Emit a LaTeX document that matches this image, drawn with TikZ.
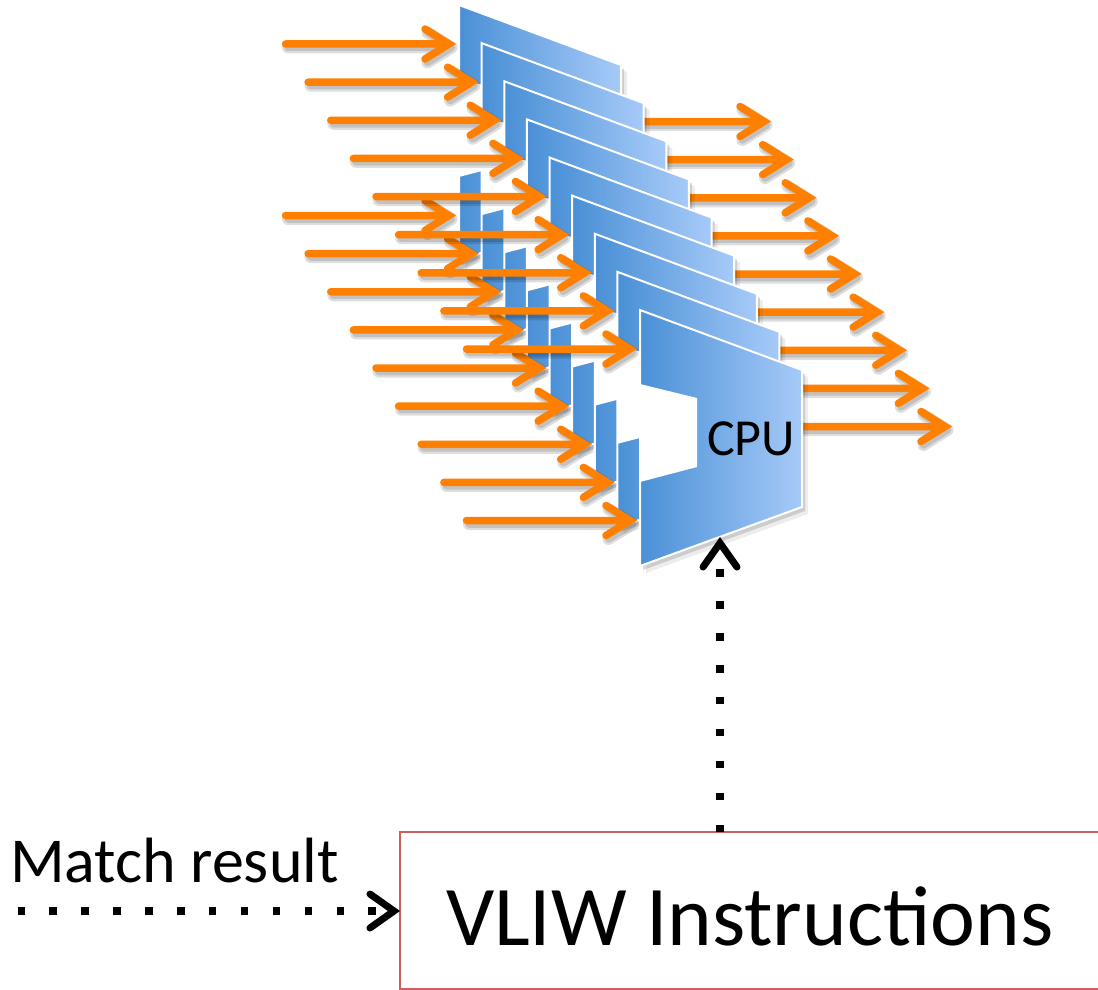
\documentclass[tikz,border=0pt]{standalone}
\usepackage{fontspec}
\setmainfont{Carlito}
\usetikzlibrary{arrows.meta}

\definecolor{cpuleft}{RGB}{74,144,214}
\definecolor{cpuright}{RGB}{166,202,248}
\definecolor{busorange}{RGB}{255,128,0}
\definecolor{boxred}{RGB}{204,96,92}

\tikzset{
  bus/.style={draw=busorange, line width=7.5pt, line cap=round, line join=miter},
  busshade/.style={draw=black, line width=#1, line cap=round, line join=round, draw opacity=0.13},
  cpubody/.style={left color=cpuleft, right color=cpuright},
  cpurim/.style={draw=white, line width=2pt, line join=miter},
  cpushade/.style={fill=black, fill opacity=#1},
  dotline/.style={draw=black, line width=7.5pt, dash pattern=on 7.5pt off 24.4pt, line cap=butt,
    -{Straight Barb[length=24pt, width=34pt, line width=7pt, line cap=round, line join=miter]}},
  textlabel/.style={inner sep=0pt, outer sep=0pt, text=black},
  vliwbox/.style={draw=boxred, line width=1.8pt, fill=white, minimum width=720pt, minimum height=157pt,
    inner sep=0pt, outer sep=0pt},
}

% one orange bus arrow: shaft start x, y, tip vertex x (local coordinates)
\newcommand\busarrow[3]{%
  \draw[busshade=12pt] (#1+2.5,#2+3.5) -- (#3+2.5,#2+3.5) ++(-24,-15) -- (#3+2.5,#2+3.5) -- ++(-24,15);
  \draw[busshade=7.5pt] (#1+2.5,#2+3.5) -- (#3+2.5,#2+3.5) ++(-24,-15) -- (#3+2.5,#2+3.5) -- ++(-24,15);
  \draw[bus] (#1,#2) -- (#3,#2) ++(-24,-15) -- (#3,#2) -- ++(-24,15);
}

\begin{document}
\begin{tikzpicture}[x=1pt, y=-1pt]
  \useasboundingbox (0,0) rectangle (1098,990);
  \clip (0,0) rectangle (1098,990);

  % stack of nine processing units, back to front
  \foreach \i in {0,...,8} {
    \begin{scope}[shift={(459+22.625*\i,5+38.125*\i)}]
      \busarrow{150}{116.5}{305}
      \busarrow{-173.5}{39}{-10}
      \busarrow{-173.5}{210.5}{-10}
      \fill[cpushade=0.07, shift={(6,7)}] (0,0) -- (162,60) -- (162,197) -- (0,256) -- cycle;
      \fill[cpushade=0.14, shift={(3,4)}] (0,0) -- (162,60) -- (162,197) -- (0,256) -- cycle;
      \shade[cpubody] (0,0) -- (162,60) -- (162,197) -- (0,256) -- cycle;
      \fill[white] (0,74) -- (57,88) -- (57,157) -- (0,172) -- cycle;
      \draw[cpurim] (0,0) -- (162,60) -- (162,197) -- (0,256) -- cycle;
    \end{scope}
  }

  \node[textlabel, anchor=base west, font=\fontsize{52}{52}\selectfont] (cpu) at (707,455) {CPU};
  \coordinate (cpubase) at (720,537);

  % instruction box and its inputs
  \node[vliwbox, anchor=north west] (vliw) at (400,832) {};
  \node[textlabel, anchor=base west, font=\fontsize{85}{85}\selectfont] (vliwtext) at (446,945) {VLIW Instructions};
  \node[textlabel, anchor=base west, font=\fontsize{64}{64}\selectfont] (match) at (10,882) {Match result};
  \coordinate (matchin) at (17.5,911);

  \draw[dotline] (matchin) -- (matchin -| vliw.west);
  \draw[dotline] (vliw.north -| cpubase) -- (cpubase);
\end{tikzpicture}
\end{document}
